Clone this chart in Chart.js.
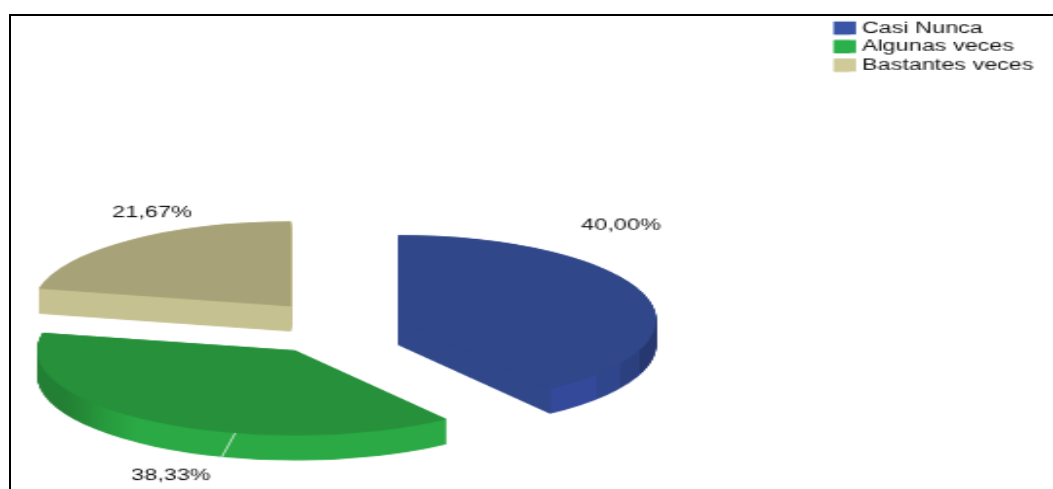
<!DOCTYPE html>
<html>
<head>
<meta charset="utf-8">
<style>
    html, body { margin: 0; padding: 0; background: #fff; overflow: hidden; }
    #marco { position: absolute; left: 9px; top: 14px; right: 0; bottom: 0; border-top: 2px solid #000; border-left: 2px solid #000; }
    #grafico { position: absolute; left: 0; top: 0; transform-origin: 0 0; transform: scale(1.95, 1.27); }
</style>
</head>
<body>
<canvas id="grafico" width="540" height="385"></canvas>
<div id="marco"></div>
<script src="https://cdn.jsdelivr.net/npm/chart.js@4/dist/chart.umd.js"></script>
<script>
const categorias = ["Casi Nunca", "Algunas veces", "Bastantes veces"];
const valores = [40.00, 38.33, 21.67];

const coloresLeyenda = ["#3a55a8", "#2bb04b", "#cfca98"];
const coloresTapa = ["#30478a", "#27903a", "#a7a277"];
// tramos del borde del pastel, [fraccion del ancho, color]
const tramosLado = [
    [[0, "#30478a"], [0.795, "#30478a"], [0.796, "#34499a"], [0.885, "#34499a"], [0.886, "#30468c"], [0.93, "#30468c"], [0.931, "#2c4080"], [0.968, "#2c4080"], [0.969, "#273870"], [1, "#273870"]],
    [[0, "#237f34"], [0.05, "#237f34"], [0.09, "#258a37"], [0.13, "#279a3d"], [0.19, "#2aa944"], [1, "#2aa944"]],
    [[0, "#c6c190"], [1, "#c6c190"]]
];
// centro separado de cada porcion y posicion de cada porcentaje, en la imagen final
const centrosPorcion = [[398.3, 320], [295, 350.3], [291, 306.4]];
const posEtiquetas = [[621, 226], [171, 476], [152, 213]];

const ESCALA_X = 1.95;
const ESCALA_Y = 1.27;
const radio = 258 / ESCALA_X;
const aplastado = (85 / ESCALA_Y) / radio;
const grosor = 25 / ESCALA_Y;

const pastel3d = {
    id: "pastel3d",
    beforeDatasetsDraw(chart) {
        const ctx = chart.ctx;
        chart.getDatasetMeta(0).data.forEach((arc, i) => {
            const medio = (arc.startAngle + arc.endAngle) / 2;
            const cx = centrosPorcion[i][0] / ESCALA_X;
            const cy = centrosPorcion[i][1] / ESCALA_Y;
            const original = arc.options;

            const grad = ctx.createLinearGradient(arc.x - radio, 0, arc.x + radio, 0);
            tramosLado[i].forEach(t => grad.addColorStop(t[0], t[1]));

            const pintar = (baja, color) => {
                arc.options = Object.assign({}, original, { backgroundColor: color });
                ctx.save();
                ctx.translate(cx, cy + baja);
                ctx.scale(1, aplastado);
                ctx.translate(-arc.x, -arc.y);
                arc.draw(ctx);
                ctx.restore();
            };
            for (let d = grosor; d > 0; d -= 0.5) pintar(d, grad);
            pintar(0, coloresTapa[i]);
            arc.options = original;

            // grieta blanca en el borde verde
            if (i === 1) {
                const a = medio - 19.6 * Math.PI / 180;
                const x = cx + Math.cos(a) * radio;
                const y = cy + Math.sin(a) * radio * aplastado;
                ctx.save();
                ctx.strokeStyle = "#e6f4e6";
                ctx.lineWidth = 0.8;
                ctx.beginPath();
                ctx.moveTo(x, y);
                ctx.lineTo(x - 14 / ESCALA_X, y + grosor);
                ctx.stroke();
                ctx.restore();
            }
        });
        return false;
    },
    afterDraw(chart) {
        const ctx = chart.ctx;
        ctx.save();
        ctx.font = "12px 'Liberation Sans'";
        ctx.fillStyle = "#111";
        ctx.textAlign = "center";
        ctx.textBaseline = "middle";
        valores.forEach((v, i) => {
            const texto = v.toFixed(2).replace(".", ",") + "%";
            ctx.fillText(texto, posEtiquetas[i][0] / ESCALA_X, posEtiquetas[i][1] / ESCALA_Y);
        });
        // la caja de la leyenda queda mas ancha que el hueco que deja Chart.js
        chart.legend.legendHitBoxes.forEach((b, i) => {
            ctx.fillStyle = coloresLeyenda[i];
            ctx.fillRect(b.left, b.top + 0.7, 11.3, 10.2);
        });
        ctx.restore();
    }
};

new Chart(document.getElementById("grafico").getContext("2d"), {
    type: "pie",
    data: {
        labels: categorias,
        datasets: [{
            data: valores,
            backgroundColor: coloresLeyenda,
            borderWidth: 0,
            radius: radio
        }]
    },
    options: {
        responsive: false,
        devicePixelRatio: 1,
        animation: false,
        layout: { padding: { top: 13.6, right: 0 } },
        plugins: {
            tooltip: { enabled: false },
            legend: {
                position: "right",
                align: "start",
                labels: {
                    boxWidth: 8.3,
                    boxHeight: 10.2,
                    padding: 2.6,
                    color: "#111",
                    font: { family: "'Liberation Sans'", size: 12 }
                }
            }
        }
    },
    plugins: [pastel3d]
});
</script>
</body>
</html>
